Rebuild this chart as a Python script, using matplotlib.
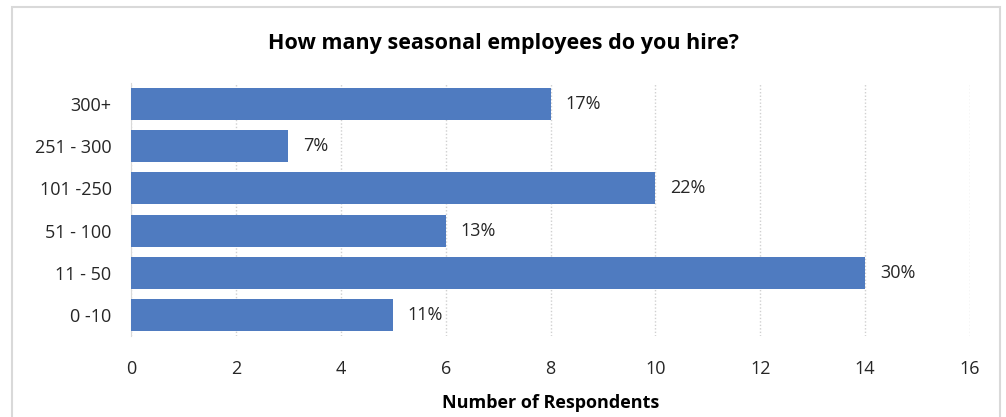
import matplotlib
matplotlib.use('Agg')
import matplotlib.pyplot as plt
from matplotlib.patches import Rectangle

categories = ['0 -10', '11 - 50', '51 - 100', '101 -250', '251 - 300', '300+']
respondents = [5, 14, 6, 10, 3, 8]
pct_labels = ['11%', '30%', '13%', '22%', '7%', '17%']
xticks = [0, 2, 4, 6, 8, 10, 12, 14, 16]

plt.rcParams['font.family'] = ['Open Sans', 'DejaVu Sans']

fig = plt.figure(figsize=(10.06, 4.17), dpi=100)
fig.patches.append(Rectangle((12/1006, -0.01), 988/1006, 1 - 7/417 + 0.01,
                             transform=fig.transFigure, fill=False,
                             edgecolor='#d9d9d9', linewidth=1.5))

ax = fig.add_axes([131/1006, 1 - 336/417, 839/1006, 253/417])
ypos = range(len(categories))
ax.barh(ypos, respondents, height=0.76, color='#4f7bc0', zorder=3)
for y, v, t in zip(ypos, respondents, pct_labels):
    ax.text(v + 0.28, y, t, va='center', ha='left', fontsize=13, color='#262626')

ax.set_xlim(0, 16)
ax.set_ylim(-0.5, len(categories) - 0.5)
ax.set_yticks(list(ypos))
ax.set_yticklabels(categories, fontsize=13, color='#262626')
ax.set_xticks(xticks)
ax.set_xticklabels([str(x) for x in xticks], fontsize=13, color='#262626')
ax.tick_params(length=0)
ax.tick_params(axis='x', pad=17)
ax.tick_params(axis='y', pad=14)

ax.grid(axis='x', linestyle=(0, (1, 1.5)), color='#d0d0d0', linewidth=1, zorder=0)
for s in ['top', 'right', 'bottom']:
    ax.spines[s].set_visible(False)
ax.spines['left'].set_color('#d9d9d9')

ax.set_xlabel('Number of Respondents', fontsize=13, fontweight='bold', labelpad=12)
fig.text(0.5, 1 - 44/417, 'How many seasonal employees do you hire?',
         ha='center', va='center', fontsize=15.5, fontweight='bold')

fig.savefig('out.png', dpi=100)
